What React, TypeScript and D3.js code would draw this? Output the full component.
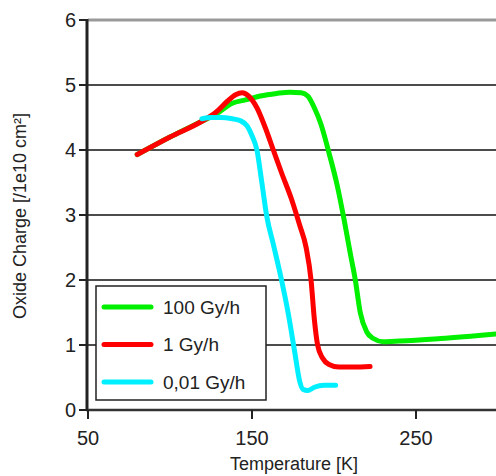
import React from 'react'
import * as d3 from 'd3'

// temperature [K] and oxide charge [1e10 cm^-2]
const greenT = [80, 100, 120, 128, 138, 146, 155, 165, 173, 180, 184, 188, 192, 197, 202, 206, 210, 213, 216, 220, 224, 230, 240, 265, 299]
const greenQ = [3.93, 4.2, 4.45, 4.55, 4.72, 4.77, 4.83, 4.87, 4.89, 4.88, 4.83, 4.65, 4.4, 3.95, 3.45, 2.95, 2.4, 2.0, 1.5, 1.2, 1.1, 1.05, 1.06, 1.1, 1.17]
const redT = [80, 100, 120, 128, 135, 140, 144, 148, 153, 158, 163, 168, 174, 179, 183, 186, 188, 190, 193, 197, 203, 212, 222]
const redQ = [3.93, 4.2, 4.45, 4.58, 4.75, 4.85, 4.88, 4.83, 4.65, 4.35, 4.0, 3.65, 3.25, 2.85, 2.5, 2.0, 1.4, 1.0, 0.8, 0.7, 0.66, 0.66, 0.67]
const cyanT = [119.5, 125, 131, 138, 143, 147, 150, 153, 156, 159, 163, 168, 172, 176, 179, 181, 184, 188, 194, 201]
const cyanQ = [4.48, 4.5, 4.5, 4.48, 4.45, 4.37, 4.22, 4.0, 3.5, 2.98, 2.55, 2.0, 1.5, 0.9, 0.45, 0.32, 0.3, 0.35, 0.38, 0.38]

const seriesNames = ['100 Gy/h', '1 Gy/h', '0,01 Gy/h']
const seriesColors = ['#00f000', '#ff0000', '#00f0ff']

const xTicks = [50, 150, 250]
const yTicks = [0, 1, 2, 3, 4, 5, 6]

const FONT = "'Liberation Sans Narrow', 'Arial Narrow', 'Liberation Sans', sans-serif"

const App = () => {
  const left = 88
  const top = 20
  const bottom = 410
  const x = d3.scaleLinear().domain([50, 300]).range([left, left + 410])
  const y = d3.scaleLinear().domain([0, 6]).range([bottom, top])

  const line = d3.line<[number, number]>()
    .x(d => x(d[0]))
    .y(d => y(d[1]))
    .curve(d3.curveMonotoneX)

  const series = [
    greenT.map((t, i) => [t, greenQ[i]] as [number, number]),
    redT.map((t, i) => [t, redQ[i]] as [number, number]),
    cyanT.map((t, i) => [t, cyanQ[i]] as [number, number]),
  ]

  return (
    <svg width={496} height={476} style={{position: 'absolute', left: 0, top: 0, background: '#fff'}}>
      {/* gridlines */}
      {yTicks.filter(v => v > 0).map(v => (
        <line key={v} x1={left} x2={496} y1={y(v)} y2={y(v)}
          stroke={v === 6 ? '#999' : '#111'} strokeWidth={v === 6 ? 3 : 1.6} />
      ))}
      {/* curves */}
      <defs>
        <clipPath id="plot"><rect x={left} y={top} width={496 - left} height={bottom - top} /></clipPath>
      </defs>
      <g clipPath="url(#plot)">
        {series.map((s, i) => (
          <path key={i} d={line(s) || ''} fill="none" stroke={seriesColors[i]}
            strokeWidth={5} strokeLinecap="round" strokeLinejoin="round" />
        ))}
      </g>
      {/* axes */}
      <line x1={left - 1} x2={left - 1} y1={top - 1} y2={bottom + 1} stroke="#222" strokeWidth={3} />
      <line x1={left - 2} x2={496} y1={bottom} y2={bottom} stroke="#333" strokeWidth={2.5} />
      {yTicks.map(v => (
        <g key={v}>
          <line x1={left - 9} x2={left} y1={y(v)} y2={y(v)} stroke="#222" strokeWidth={2} />
          <text x={left - 12} y={y(v)} dy="0.36em" textAnchor="end" fontFamily={FONT} fontSize={20} fill="#222">{v}</text>
        </g>
      ))}
      {xTicks.map(v => (
        <g key={v}>
          <line x1={x(v)} x2={x(v)} y1={bottom} y2={bottom + 9} stroke="#222" strokeWidth={2} />
          <text x={x(v)} y={445} textAnchor="middle" fontFamily={FONT} fontSize={20} fill="#222">{v}</text>
        </g>
      ))}
      <text x={294} y={470} textAnchor="middle" fontFamily={FONT} fontSize={18} fill="#222">Temperature [K]</text>
      <text transform="translate(26,216) rotate(-90)" textAnchor="middle" fontFamily={FONT} fontSize={18} fill="#222">
        Oxide Charge [/1e10 cm²]
      </text>
      {/* legend */}
      <rect x={96} y={286} width={170} height={114} fill="#fff" stroke="#222" strokeWidth={1.5} />
      {seriesNames.map((name, i) => (
        <g key={name}>
          <line x1={104} x2={151} y1={307 + i * 37.5} y2={307 + i * 37.5} stroke={seriesColors[i]} strokeWidth={5} strokeLinecap="round" />
          <text x={163} y={307 + i * 37.5} dy="0.36em" fontFamily={FONT} fontSize={19} fill="#222">{name}</text>
        </g>
      ))}
    </svg>
  )
}

export default App
